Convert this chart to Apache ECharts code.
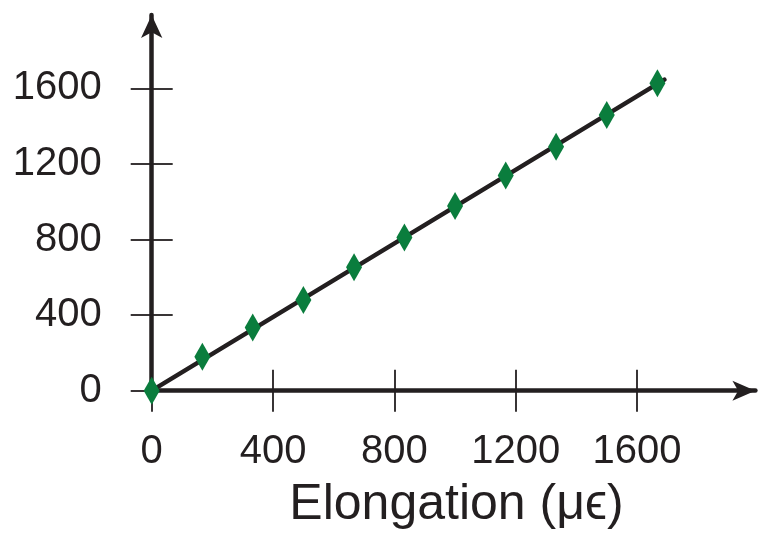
<!DOCTYPE html>
<html>
<head>
<meta charset="utf-8">
<script src="https://cdn.jsdelivr.net/npm/echarts@6/dist/echarts.min.js"></script>
<style>
  html, body { margin: 0; padding: 0; background: #ffffff; }
  #chart { width: 764px; height: 542px; }
</style>
</head>
<body>
<div id="chart"></div>
<script>
// Measured elongation (microstrain) and the corresponding reading
const elongation = [0, 167, 333, 500, 667, 833, 1000, 1167, 1333, 1500, 1667];
const measured = [0, 180, 335, 480, 653, 810, 977, 1138, 1291, 1459, 1627];
// Tick positions shared by both axes
const tickValues = [0, 400, 800, 1200, 1600];
// Extent of the fitted line along the x axis
const fitRange = [0, 1690];

const ink = '#231f20';
const green = '#0a7d3d';
const font = "'Liberation Sans', Arial, sans-serif";

// Least-squares slope of a line through the origin
let sxy = 0, sxx = 0;
elongation.forEach((x, i) => { sxy += x * measured[i]; sxx += x * x; });
const slope = sxy / sxx;
const fitLine = fitRange.map(x => [x, x * slope]);

const points = elongation.map((x, i) => [x, measured[i]]);

const xMax = 1990, yMax = 1988;
const plainNumber = v => String(v);

const gridLeft = 151.7, gridRight = 8.6, gridTop = 14.97, gridBottom = 151.3;
const plotWidth = 764 - gridLeft - gridRight;
const plotHeight = 542 - gridTop - gridBottom;

const chart = echarts.init(document.getElementById('chart'), null, { renderer: 'canvas' });

const tickStyle = { color: ink, width: 1.8 };

chart.setOption({
  animation: false,
  backgroundColor: '#ffffff',
  grid: { left: gridLeft, right: gridRight, top: gridTop, bottom: gridBottom, containLabel: false },
  xAxis: [
    {
      type: 'value', min: 0, max: xMax, position: 'bottom',
      name: 'Elongation (\u03bc\u03f5)', nameLocation: 'middle', nameGap: 90,
      nameTextStyle: { fontFamily: font, fontSize: 50, color: ink, padding: [0, 0, 0, 6] },
      axisLine: { show: true, onZero: false, symbol: ['none', 'arrow'], symbolSize: [15, 23],
        lineStyle: { color: ink, width: 4.5 } },
      axisTick: { show: true, inside: false, length: 21, customValues: tickValues, lineStyle: tickStyle },
      axisLabel: { show: true, margin: 41, customValues: tickValues, formatter: plainNumber,
        fontFamily: font, fontSize: 40, color: ink },
      splitLine: { show: false }
    },
    {
      // upper half of the crossing x ticks
      type: 'value', min: 0, max: xMax, position: 'top', offset: -plotHeight,
      axisLine: { show: false, onZero: false },
      axisTick: { show: true, inside: false, length: 21, customValues: tickValues, lineStyle: tickStyle },
      axisLabel: { show: false },
      splitLine: { show: false }
    }
  ],
  yAxis: [
    {
      type: 'value', min: 0, max: yMax, position: 'left',
      axisLine: { show: true, onZero: false, symbol: ['none', 'arrow'], symbolSize: [16, 23],
        lineStyle: { color: ink, width: 4.5 } },
      axisTick: { show: true, inside: false, length: 21, customValues: tickValues, lineStyle: tickStyle },
      axisLabel: { show: true, margin: 50, customValues: tickValues, formatter: plainNumber,
        fontFamily: font, fontSize: 40, color: ink },
      splitLine: { show: false }
    },
    {
      // right half of the crossing y ticks
      type: 'value', min: 0, max: yMax, position: 'right', offset: -plotWidth,
      axisLine: { show: false, onZero: false },
      axisTick: { show: true, inside: false, length: 21, customValues: tickValues, lineStyle: tickStyle },
      axisLabel: { show: false },
      splitLine: { show: false }
    }
  ],
  series: [
    {
      type: 'line', data: fitLine, xAxisIndex: 0, yAxisIndex: 0,
      showSymbol: false, symbol: 'none', z: 2,
      lineStyle: { color: ink, width: 4.5, cap: 'round' }
    },
    {
      type: 'scatter', data: points, xAxisIndex: 0, yAxisIndex: 0,
      symbol: 'diamond', symbolSize: [16, 28], z: 3,
      itemStyle: { color: green, opacity: 1 }
    }
  ]
});
</script>
</body>
</html>
